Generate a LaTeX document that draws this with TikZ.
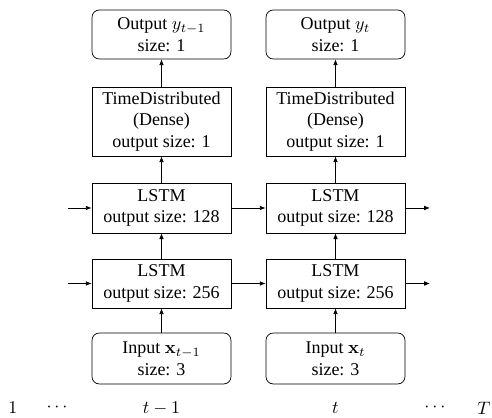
\documentclass[tikz,border=0pt]{standalone}
\usepackage[no-math]{fontspec}
\setmainfont{Liberation Serif}
\usetikzlibrary{arrows.meta}
\begin{document}
\begin{tikzpicture}[x=0.5556pt,y=-0.5556pt,
  box/.style={draw, minimum width=77.2pt, align=center, inner sep=1pt, font=\fontsize{10}{12}\selectfont},
  rbox/.style={box, rounded corners=4pt},
  conn/.style={-{Latex[length=3.2pt,width=2.6pt]}, line width=0.45pt},
  lbl/.style={font=\fontsize{10}{12}\selectfont}]
\useasboundingbox (0,0) rectangle (492,418);
% left column
\node[rbox, minimum height=27.2pt] (outL) at (161.5,34.5) {Output $y_{t-1}$\\size: 1};
\node[box, minimum height=38.3pt] (tdL) at (161.5,121.5) {TimeDistributed\\(Dense)\\output size: 1};
\node[box, minimum height=27.7pt] (l2L) at (161.5,208) {LSTM\\output size: 128};
\node[box, minimum height=27.2pt] (l1L) at (161.5,283.5) {LSTM\\output size: 256};
\node[rbox, minimum height=28.3pt] (inL) at (161.5,358.5) {Input $\mathbf{x}_{t-1}$\\size: 3};
% right column
\node[rbox, minimum height=27.2pt] (outR) at (335.5,34.5) {Output $y_{t}$\\size: 1};
\node[box, minimum height=38.3pt] (tdR) at (335.5,121.5) {TimeDistributed\\(Dense)\\output size: 1};
\node[box, minimum height=27.7pt] (l2R) at (335.5,208) {LSTM\\output size: 128};
\node[box, minimum height=27.2pt] (l1R) at (335.5,283.5) {LSTM\\output size: 256};
\node[rbox, minimum height=28.3pt] (inR) at (335.5,358.5) {Input $\mathbf{x}_{t}$\\size: 3};
% free ends
\coordinate (a2) at (68,208);
\coordinate (a1) at (68,283.5);
\coordinate (b2) at (430,208);
\coordinate (b1) at (430,283.5);
% vertical arrows
\foreach \c in {L,R}{
  \draw[conn] (in\c) -- (l1\c);
  \draw[conn] (l1\c) -- (l2\c);
  \draw[conn] (l2\c) -- (td\c);
  \draw[conn] (td\c) -- (out\c);
}
% horizontal arrows
\draw[conn] (a2) -- (l2L);
\draw[conn] (a1) -- (l1L);
\draw[conn] (l2L) -- (l2R);
\draw[conn] (l1L) -- (l1R);
\draw[conn] (l2R) -- (b2);
\draw[conn] (l1R) -- (b1);
% time labels
\node[lbl] (t1) at (13,408) {$1$};
\node[lbl] (d1) at (57,408) {$\cdots$};
\node[lbl] (tm) at (161.5,408) {$t-1$};
\node[lbl] (tt) at (335.5,408) {$t$};
\node[lbl] (d2) at (435,408) {$\cdots$};
\node[lbl] (tT) at (484,408) {$T$};
\end{tikzpicture}
\end{document}
